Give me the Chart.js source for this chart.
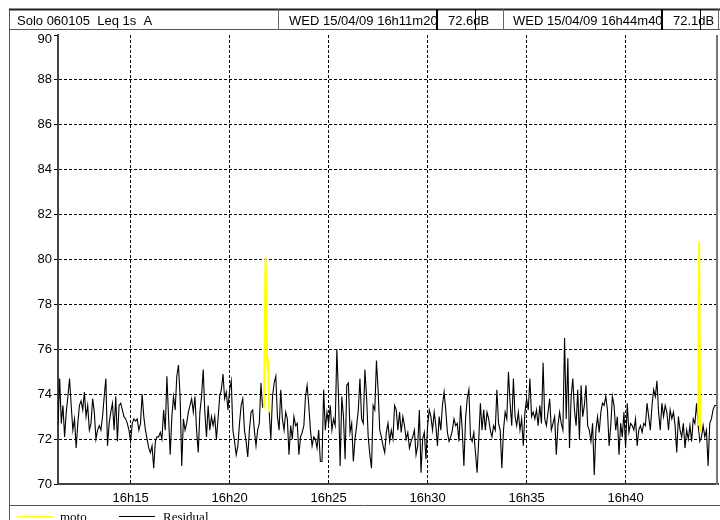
<!DOCTYPE html>
<html><head><meta charset="utf-8">
<script src="https://cdn.jsdelivr.net/npm/chart.js@4/dist/chart.umd.min.js"></script>
<style>html,body{margin:0;padding:0;background:#fff;overflow:hidden}canvas{display:block}</style>
</head><body>
<canvas id="c" width="720" height="520"></canvas>
<script>
// ---- header texts ----
const headerTitle = 'Solo 060105  Leq 1s  A';
const headerStart = 'WED 15/04/09 16h11m20';
const headerStartLevel = '72.6dB';
const headerEnd = 'WED 15/04/09 16h44m40';
const headerEndLevel = '72.1dB';

// ---- axes ----
// x = seconds since 16h11m20 (start of the record), end = 16h44m40
const xMin = 0;
const xMax = 2000;
const tickSeconds = [220, 520, 820, 1120, 1420, 1720];
const tickLabels = ['16h15', '16h20', '16h25', '16h30', '16h35', '16h40'];
const yMin = 70;
const yMax = 90;
const yStep = 2;

// ---- series ----
const seriesNames = ['moto', 'Residual'];
const residualStep = 5; // seconds between read samples
const residualValues = [
  // 16h11m20 - 16h18m00
  72.6,74.7,72.7,73.5,72.1,73.2,73.9,74.7,73.5,72.4,72.9,71.6,72.7,73.5,73.7,73.3,74.1,73.0,73.5,72.4,
  72.7,73.8,73.2,72.0,72.4,72.6,72.4,73.0,73.9,74.7,71.7,72.7,73.2,73.6,72.4,73.9,71.9,73.5,73.6,73.3,
  73.0,72.9,72.7,72.4,71.9,72.7,72.9,72.8,72.9,72.4,72.7,74.0,73.0,72.4,72.0,71.6,71.4,71.7,70.7,71.9,
  72.1,72.1,72.3,72.0,73.3,72.4,74.8,73.0,71.3,73.0,73.9,73.3,74.8,75.3,73.9,70.8,72.9,72.4,72.7,73.2,
  // 16h18m00 - 16h24m40
  73.5,73.8,73.2,73.9,72.4,71.4,73.2,73.9,75.1,73.2,72.1,73.5,72.4,73.0,72.6,73.0,72.0,72.9,73.9,74.2,
  74.9,73.8,74.1,73.3,74.2,74.6,72.4,71.9,71.3,71.7,72.7,73.5,73.8,72.4,71.9,71.2,72.4,73.2,73.3,72.4,
  71.7,72.4,72.7,74.5,73.4,null,null,null,73.2,72.0,73.9,74.5,74.8,73.0,72.4,74.2,72.9,72.4,73.2,72.9,
  71.3,72.6,72.0,73.0,72.6,72.7,71.3,72.1,72.3,72.6,73.9,74.4,73.5,72.4,71.7,72.1,72.0,71.6,72.4,71.0,
  // 16h24m40 - 16h31m20
  71.0,74.2,72.4,73.2,72.7,73.5,72.4,72.9,72.6,76.0,73.9,70.8,73.9,73.0,71.1,74.4,74.5,72.3,72.7,71.0,
  72.0,72.6,73.3,74.7,72.9,72.7,75.1,73.9,72.1,71.3,70.7,73.5,73.3,75.5,74.2,72.4,72.1,71.7,71.4,72.3,
  72.7,71.9,72.4,72.0,73.5,73.3,72.4,73.2,72.3,73.0,72.6,72.0,72.3,71.6,71.9,72.1,72.4,71.3,71.7,73.3,
  70.5,72.0,72.3,71.1,72.6,73.3,73.0,72.4,73.2,72.6,71.7,73.0,72.4,73.5,74.1,73.3,72.3,71.9,72.1,72.4,
  // 16h31m20 - 16h38m00
  72.9,72.6,72.7,71.9,73.5,72.4,70.8,72.9,73.8,74.2,72.1,71.9,72.3,71.4,70.5,72.0,73.6,72.4,73.3,72.4,
  73.2,72.9,72.4,72.1,72.6,72.4,74.2,72.7,72.4,70.7,72.4,73.2,72.9,75.0,73.6,72.6,74.7,73.0,72.6,73.2,
  72.4,72.9,71.7,73.2,73.8,73.3,74.7,73.0,73.2,72.9,73.3,72.6,73.5,72.7,75.4,72.9,72.6,73.2,73.8,72.4,
  72.7,73.0,71.3,72.6,73.2,72.7,72.4,76.5,72.9,75.6,71.6,73.9,74.7,73.3,72.6,74.2,72.0,74.4,73.0,73.5,
  // 16h38m00 - 16h44m40
  74.4,72.6,72.4,71.9,72.7,70.4,72.4,73.0,72.3,73.2,73.6,73.5,73.9,73.3,71.7,72.6,73.9,73.5,72.4,73.0,
  71.3,72.7,72.1,73.2,71.6,73.6,72.3,72.7,72.6,72.4,72.9,71.7,72.4,72.6,72.3,72.7,72.6,73.6,73.0,72.4,
  73.5,74.2,73.9,74.6,73.2,72.4,73.6,73.0,73.5,73.2,72.4,73.3,72.9,73.2,72.6,71.4,73.0,72.4,72.1,72.7,
  71.6,72.4,72.0,72.6,71.9,72.9,72.7,73.6,72.6,71.9,72.1,72.6,72.1,72.4,70.8,72.7,72.9,73.3,73.5,73.5,
  74.0
];
const motoTimes  = [624, 629, 632, 634, 636, 637, 640, 1200, 1940, 1943, 1946];
const motoValues = [73.4, 80.1, 77.5, 75.4, 75.0, 75.6, 73.2, null, 72.6, 80.8, 72.3];

// ---- colours ----
const motoColor = '#ffff00';
const residualColor = '#000000';

const FONT = "'Liberation Sans', Arial, sans-serif";

const residualPoints = residualValues.map((v, i) => ({x: i * residualStep, y: v}));
const motoPoints = motoTimes.map((t, i) => ({x: t, y: motoValues[i]}));

const decor = {
  id: 'decor',
  beforeDraw(chart) {
    const ctx = chart.ctx;
    ctx.save();
    ctx.fillStyle = '#fff';
    ctx.fillRect(0, 0, chart.width, chart.height);
    ctx.restore();
  },
  afterDraw(chart) {
    const ctx = chart.ctx;
    const a = chart.chartArea;
    ctx.save();
    // plot frame: right
    ctx.strokeStyle = '#777';
    ctx.lineWidth = 2;
    ctx.beginPath();
    ctx.moveTo(a.right - 1, a.top);
    ctx.lineTo(a.right - 1, a.bottom + 1);
    ctx.stroke();

    // outer frame
    ctx.strokeStyle = '#555';
    ctx.lineWidth = 1;
    ctx.beginPath();
    ctx.moveTo(9.5, 9); ctx.lineTo(9.5, 520);
    ctx.moveTo(9, 505.5); ctx.lineTo(720, 505.5);
    ctx.moveTo(9, 29.5); ctx.lineTo(720, 29.5);
    ctx.stroke();
    ctx.strokeStyle = '#222';
    ctx.lineWidth = 2;
    ctx.beginPath();
    ctx.moveTo(9, 9.5); ctx.lineTo(720, 9.5);
    ctx.stroke();

    // header dividers
    ctx.strokeStyle = '#666';
    ctx.lineWidth = 1;
    ctx.beginPath();
    ctx.moveTo(278.5, 9); ctx.lineTo(278.5, 30);
    ctx.moveTo(503.5, 9); ctx.lineTo(503.5, 30);
    ctx.moveTo(718.5, 9); ctx.lineTo(718.5, 30);
    ctx.stroke();
    ctx.strokeStyle = '#000';
    ctx.beginPath();
    ctx.moveTo(475.5, 9); ctx.lineTo(475.5, 30);
    ctx.moveTo(700.5, 9); ctx.lineTo(700.5, 30);
    ctx.stroke();
    ctx.lineWidth = 2;
    ctx.beginPath();
    ctx.moveTo(437, 9); ctx.lineTo(437, 30);
    ctx.moveTo(662, 9); ctx.lineTo(662, 30);
    ctx.stroke();

    // header texts
    ctx.fillStyle = '#000';
    ctx.font = '13px ' + FONT;
    ctx.textBaseline = 'alphabetic';
    ctx.textAlign = 'left';
    ctx.fillText(headerTitle, 17, 25);
    ctx.fillText(headerStart, 289, 25);
    ctx.fillText(headerStartLevel, 448, 25);
    ctx.fillText(headerEnd, 513, 25);
    ctx.fillText(headerEndLevel, 673, 25);

    // legend
    const ds = chart.data.datasets;
    const items = [{x1: 17, x2: 53, tx: 60}, {x1: 119, x2: 155, tx: 163}];
    ctx.font = '13px "Liberation Serif", "Times New Roman", serif';
    ds.forEach((d, i) => {
      const it = items[i];
      ctx.strokeStyle = d.borderColor;
      ctx.lineWidth = 1;
      ctx.beginPath();
      ctx.moveTo(it.x1, 516.5); ctx.lineTo(it.x2, 516.5);
      ctx.stroke();
      ctx.fillStyle = '#000';
      ctx.fillText(d.label, it.tx, 521);
    });
    ctx.restore();
  }
};

new Chart(document.getElementById('c'), {
  type: 'line',
  data: {
    datasets: [
      {label: seriesNames[0], data: motoPoints, borderColor: motoColor, backgroundColor: motoColor,
       borderWidth: 2, pointRadius: 0, tension: 0, spanGaps: false},
      {label: seriesNames[1], data: residualPoints, borderColor: residualColor, backgroundColor: residualColor,
       borderWidth: 1.1, pointRadius: 0, tension: 0, spanGaps: false}
    ]
  },
  options: {
    responsive: false,
    animation: false,
    devicePixelRatio: 1,
    layout: {padding: {left: 9, top: 35, right: 2, bottom: 14}},
    plugins: {legend: {display: false}, tooltip: {enabled: false}},
    scales: {
      x: {
        type: 'linear', min: xMin, max: xMax,
        afterBuildTicks: s => { s.ticks = tickSeconds.map(v => ({value: v})); },
        afterFit: s => { s.height = 22; },
        ticks: {
          autoSkip: false, maxRotation: 0, padding: 7, color: '#000',
          font: {family: FONT, size: 13},
          callback: (v, i) => tickLabels[i]
        },
        grid: {color: '#000', lineWidth: 1, drawTicks: false},
        border: {display: true, color: '#444', width: 2, dash: [3, 2]}
      },
      y: {
        min: yMin, max: yMax,
        afterFit: s => { s.width = 49; },
        ticks: {
          stepSize: yStep, padding: 2, color: '#000',
          callback: v => (v === yMax ? ['', String(v)] : String(v)),
          font: c => ({family: FONT, size: 13,
                       lineHeight: (c.tick && c.tick.value === yMax) ? 0.7 : 1.2})
        },
        grid: {
          color: c => (c.tick && (c.tick.value === yMin || c.tick.value === yMax)) ? 'rgba(0,0,0,0)' : '#000',
          tickColor: '#000', tickLength: 4, lineWidth: 1
        },
        border: {display: true, color: '#444', width: 2, dash: [3, 2]}
      }
    }
  },
  plugins: [decor]
});
</script>
</body></html>
